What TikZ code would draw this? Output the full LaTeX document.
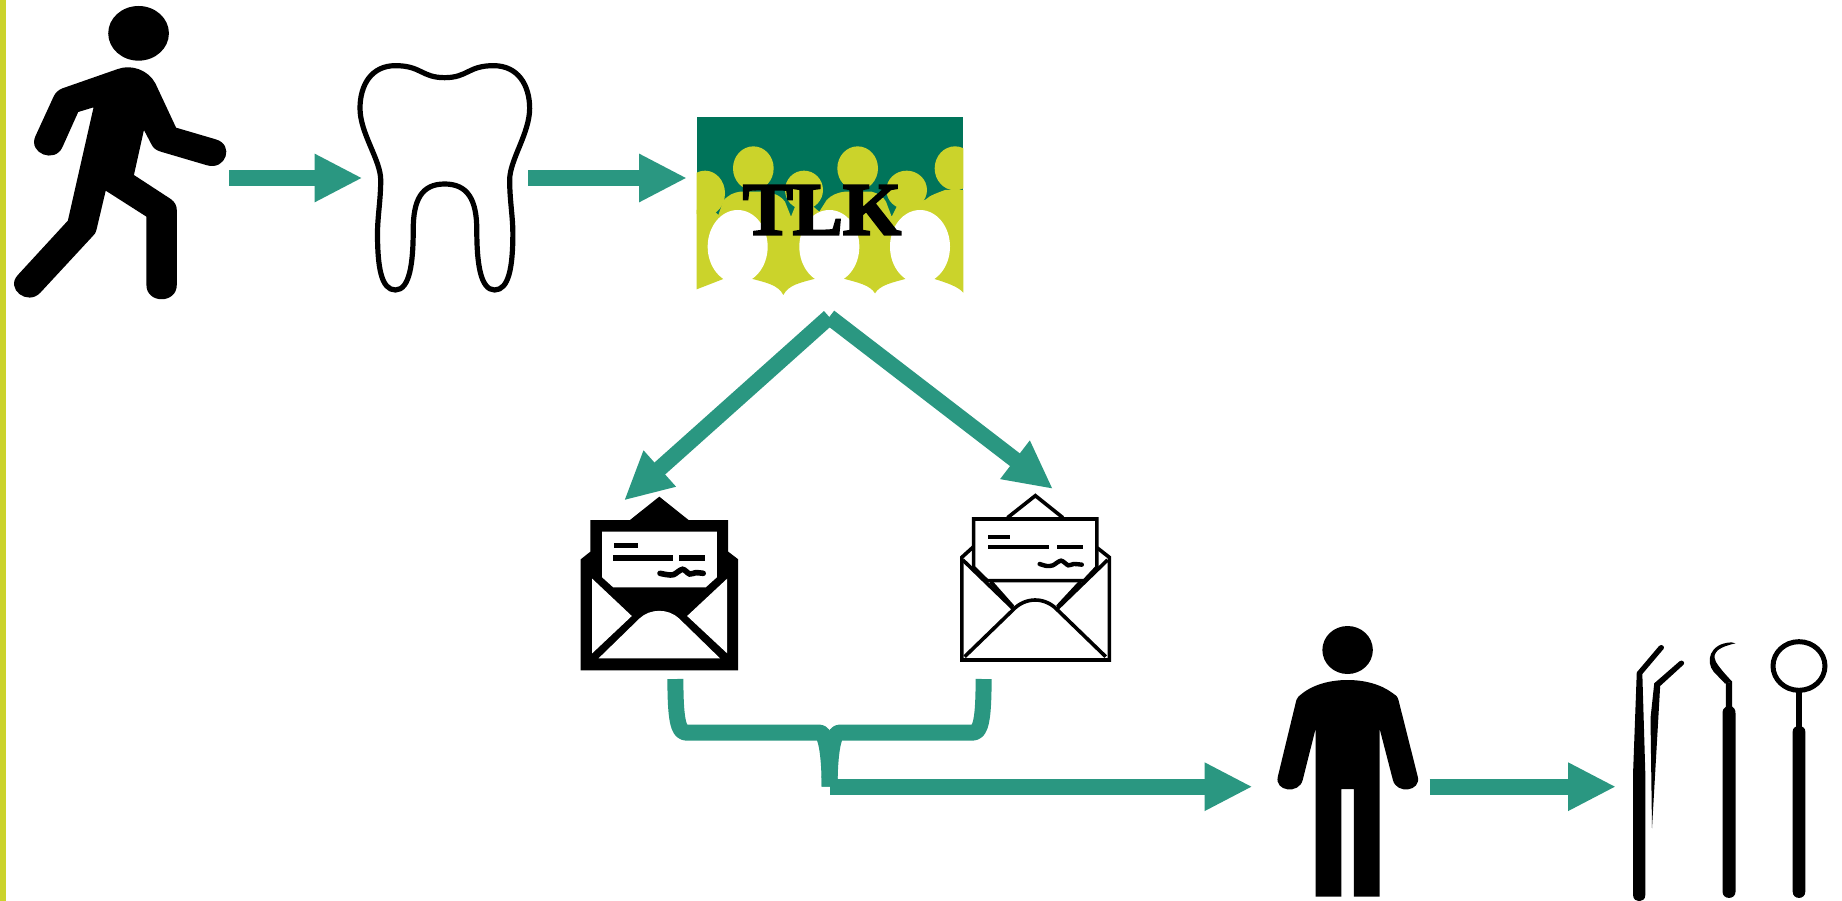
\documentclass[tikz,border=0pt]{standalone}
\usepackage{fontspec}
\setmainfont{Liberation Serif}
\newfontfamily\tlkfont[FakeBold=3]{Liberation Serif Bold}
\usetikzlibrary{arrows.meta}
\definecolor{teal}{HTML}{2A9781}
\definecolor{dkgreen}{HTML}{00745A}
\definecolor{lime}{HTML}{CBD32B}
\tikzset{
  flow/.style={draw=teal,line width=16pt,-{Triangle[length=48pt,width=45pt]}},
  elbow/.style={draw=teal,line width=16pt,line join=round},
  zoomA/.style={xscale=0.35714,yscale=0.33333},
  zoomB/.style={xscale=0.37120,yscale=0.33333},
  zoomC/.style={xscale=0.33333,yscale=0.33333},
  icon/.style={inner sep=0pt,outer sep=0pt},
  thinline/.style={draw=black,line width=3.6pt,fill=white,line join=miter},
}
\begin{document}
\begin{tikzpicture}[x=1pt,y=-1pt]
\useasboundingbox (0,0) rectangle (1842,901);
\fill[white] (0,0) rectangle (1842,901);
\fill[lime] (0,0) rectangle (6,901);

% walker
\begin{scope}[shift={(0,0)},zoomA]
\fill (388,100) ellipse [x radius=85,y radius=82];
\fill (330,207) .. controls (368,192) and (415,210) .. (435,250) -- (493,383) -- (604,418)
  .. controls (657,434) and (633,512) .. (580,496) -- (450,455) .. controls (438,451) and (430,445) .. (425,435)
  -- (403,390) -- (375,525) -- (478,597) .. controls (490,606) and (495,618) .. (495,630) -- (495,855)
  .. controls (495,912) and (410,912) .. (410,855) -- (410,650) -- (296,572) -- (270,690)
  .. controls (268,698) and (266,702) .. (260,708) -- (113,878) .. controls (77,919) and (14,866) .. (50,825)
  -- (190,662) -- (262,322) -- (219,336) -- (175,441) .. controls (154,492) and (78,460) .. (99,409)
  -- (150,290) .. controls (155,278) and (163,270) .. (175,265) -- cycle;
\end{scope}

% tooth
\begin{scope}[zoomA]
\draw[line width=5.2pt,line join=round] (1245,233)
  .. controls (1310,233) and (1310,197) .. (1382,197)
  .. controls (1450,197) and (1483,255) .. (1483,325)
  .. controls (1483,400) and (1427,480) .. (1427,540)
  .. controls (1427,600) and (1436,650) .. (1436,700)
  .. controls (1436,800) and (1425,870) .. (1385,870)
  .. controls (1345,870) and (1335,790) .. (1335,690)
  .. controls (1335,600) and (1310,552) .. (1245,552)
  .. controls (1180,552) and (1157,600) .. (1157,690)
  .. controls (1157,790) and (1147,870) .. (1107,870)
  .. controls (1067,870) and (1057,800) .. (1057,700)
  .. controls (1057,650) and (1066,600) .. (1066,540)
  .. controls (1066,480) and (1008,400) .. (1008,325)
  .. controls (1008,255) and (1040,197) .. (1107,197)
  .. controls (1180,197) and (1180,233) .. (1245,233) -- cycle;
\end{scope}

% audience picture
\begin{scope}[shift={(680,100)},zoomC]
\clip (50,50) rectangle (850,600);
\fill[dkgreen] (50,50) rectangle (850,350);
\fill[lime] (220,205) ellipse [x radius=61,y radius=66];
\fill[lime] (533,205) ellipse [x radius=61,y radius=66];
\fill[lime] (825,205) ellipse [x radius=61,y radius=66];
\fill[lime] (75,280) ellipse [x radius=60,y radius=68];
\fill[lime] (372,270) ellipse [x radius=57,y radius=58];
\fill[lime] (680,270) ellipse [x radius=61,y radius=58];
\fill[lime] (50,330) -- (100,330) -- (115,345) -- (130,302) .. controls (145,285) and (160,278) .. (180,275)
  -- (262,275) .. controls (285,280) and (305,290) .. (315,305) -- (333,350)
  -- (345,320) -- (400,320) -- (418,335) -- (440,300) .. controls (455,285) and (470,278) .. (495,275)
  -- (575,275) .. controls (595,280) and (610,290) .. (618,305) -- (635,350)
  -- (650,320) -- (735,300) .. controls (750,285) and (775,278) .. (795,270) -- (850,270)
  -- (850,578) .. controls (835,560) and (800,548) .. (757,535) -- (683,535)
  .. controls (635,548) and (600,555) .. (585,580) .. controls (570,555) and (535,548) .. (487,535) -- (410,535)
  .. controls (360,548) and (325,555) .. (310,585) .. controls (295,555) and (260,548) .. (210,535)
  -- (135,535) -- (50,568) -- cycle;
\fill[white] (173,440) ellipse [x radius=90,y radius=110];
\fill[white] (448,440) ellipse [x radius=90,y radius=110];
\fill[white] (720,440) ellipse [x radius=90,y radius=110];
\end{scope}
\node[icon,font=\tlkfont\fontsize{75}{75}\selectfont] (tlk) at (822,210) {TLK};

% filled envelope
\begin{scope}[shift={(570,480)},zoomA]
\fill (30,238) -- (57,215) -- (57,120) -- (168,120) -- (250,50) -- (332,120) -- (443,120)
  -- (443,215) -- (471,238) -- (471,571) -- (30,571) -- cycle;
\fill[white] (90,155) -- (411,155) -- (411,292) -- (380,322) -- (121,322) -- (90,292) -- cycle;
\fill (122,188) rectangle (189,205);
\fill (120,225) rectangle (288,243);
\fill (305,225) rectangle (378,243);
\draw[line width=5.6pt,line cap=round] plot[smooth] coordinates {(252,280) (272,284) (290,284) (315,268) (335,282) (352,278) (373,280)};
\fill[white] (62,296) -- (173,408) -- (62,520) -- cycle;
\fill[white] (440,296) -- (328,408) -- (440,520) -- cycle;
\fill[white] (80,535) -- (195,415) .. controls (225,385) and (275,385) .. (305,415) -- (420,535) -- cycle;
\end{scope}

% outlined envelope
\begin{scope}[shift={(570,480)},zoomA]
\draw[thinline] (1225,113) -- (1303,47) -- (1380,113);
\draw[thinline] (1097,232) -- (1130,200) -- (1478,205) -- (1510,232) -- (1510,540) -- (1097,540) -- cycle;
\draw[thinline] (1130,117) -- (1475,117) -- (1475,262) -- (1440,302) -- (1168,302) -- (1130,262) -- cycle;
\draw[draw=black,line width=3.6pt] (1100,240) -- (1240,385) (1505,240) -- (1365,385);
\draw[draw=black,line width=3.6pt] (1178,305) -- (1240,380) (1430,305) -- (1365,380);
\draw[draw=black,line width=3.6pt,line join=round] (1105,530) -- (1240,390) .. controls (1275,350) and (1330,350) .. (1365,390) -- (1500,530);
\fill (1170,165) rectangle (1232,177);
\fill (1170,196) rectangle (1340,208);
\fill (1364,196) rectangle (1436,208);
\draw[line width=4.4pt,line cap=round] plot[smooth] coordinates {(1315,252) (1335,258) (1352,256) (1375,242) (1395,256) (1410,252) (1433,254)};
\end{scope}

% person
\begin{scope}[shift={(1260,610)},zoomB]
\fill (236,120) ellipse [x radius=68,y radius=72];
\fill (150,860) -- (219,860) -- (219,537) -- (253,537) -- (253,860) -- (322,860) -- (322,355) -- (358,510)
  .. controls (368,554) and (435,544) .. (425,500) -- (373,270) .. controls (370,258) and (365,255) .. (358,250)
  .. controls (325,222) and (280,210) .. (236,210) .. controls (192,210) and (145,222) .. (112,252)
  .. controls (105,258) and (100,262) .. (98,270) -- (48,500) .. controls (38,544) and (105,554) .. (115,510)
  -- (150,355) -- cycle;
\end{scope}

% instruments
\begin{scope}[shift={(1260,610)},zoomB]
% tweezers
\fill (1005,490) -- (1015,187) -- (1075,108) .. controls (1082,100) and (1092,110) .. (1087,117)
  -- (1030,192) -- (1038,490) -- (1038,855) .. controls (1038,880) and (1005,880) .. (1005,855) -- cycle;
\fill (1052,325) -- (1062,220) -- (1130,154) .. controls (1138,147) and (1146,158) .. (1141,164)
  -- (1078,228) -- (1056,655) -- cycle;
% probe
\fill (1246,310) .. controls (1246,300) and (1250,292) .. (1255,290) -- (1255,220) -- (1272,215) -- (1272,290)
  .. controls (1277,292) and (1281,300) .. (1281,310) -- (1281,845) .. controls (1281,870) and (1246,870) .. (1246,845) -- cycle;
\fill (1253,221) -- (1222,185) .. controls (1200,155) and (1210,100) .. (1270,97) -- (1281,100)
  .. controls (1240,110) and (1215,125) .. (1228,155) .. controls (1235,170) and (1255,195) .. (1272,215) -- cycle;
% mirror
\draw[line width=5pt] (1452,168) ellipse [x radius=70,y radius=73];
\fill (1445,243) rectangle (1459,350);
\fill (1435,365) .. controls (1435,355) and (1440,350) .. (1452,347) .. controls (1464,350) and (1469,355) .. (1469,365)
  -- (1469,845) .. controls (1469,870) and (1435,870) .. (1435,845) -- cycle;
\end{scope}

% connector ends
\coordinate (walkerOut) at (229,178);
\coordinate (toothIn) at (362.5,178);
\coordinate (toothOut) at (528,178);
\coordinate (tlkIn) at (687,178);
\coordinate (tlkOut) at (829.3,317);
\coordinate (mailAIn) at (624,500.5);
\coordinate (mailBIn) at (1053,489);
\coordinate (mailAOut) at (675.4,679);
\coordinate (mailBOut) at (983.6,679);
\coordinate (join) at (829.6,786.7);
\coordinate (personIn) at (1252.5,786.7);
\coordinate (personOut) at (1429.6,786.7);
\coordinate (toolsIn) at (1616,786.7);

\draw[flow] (walkerOut) -- (toothIn);
\draw[flow] (toothOut) -- (tlkIn);
\draw[flow] (tlkOut) -- (mailAIn);
\draw[flow] (tlkOut) -- (mailBIn);
\draw[elbow] (mailAOut) .. controls (675.4,718) and (678,732.6) .. (686,732.6) -- (820,732.6)
  .. controls (826,732.6) and (829.6,755) .. (829.6,786.7);
\draw[elbow] (mailBOut) .. controls (983.6,718) and (981,732.6) .. (973,732.6) -- (839,732.6)
  .. controls (833,732.6) and (829.6,755) .. (829.6,786.7);
\draw[flow] (join) -- (personIn);
\draw[flow] (personOut) -- (toolsIn);
\end{tikzpicture}
\end{document}
